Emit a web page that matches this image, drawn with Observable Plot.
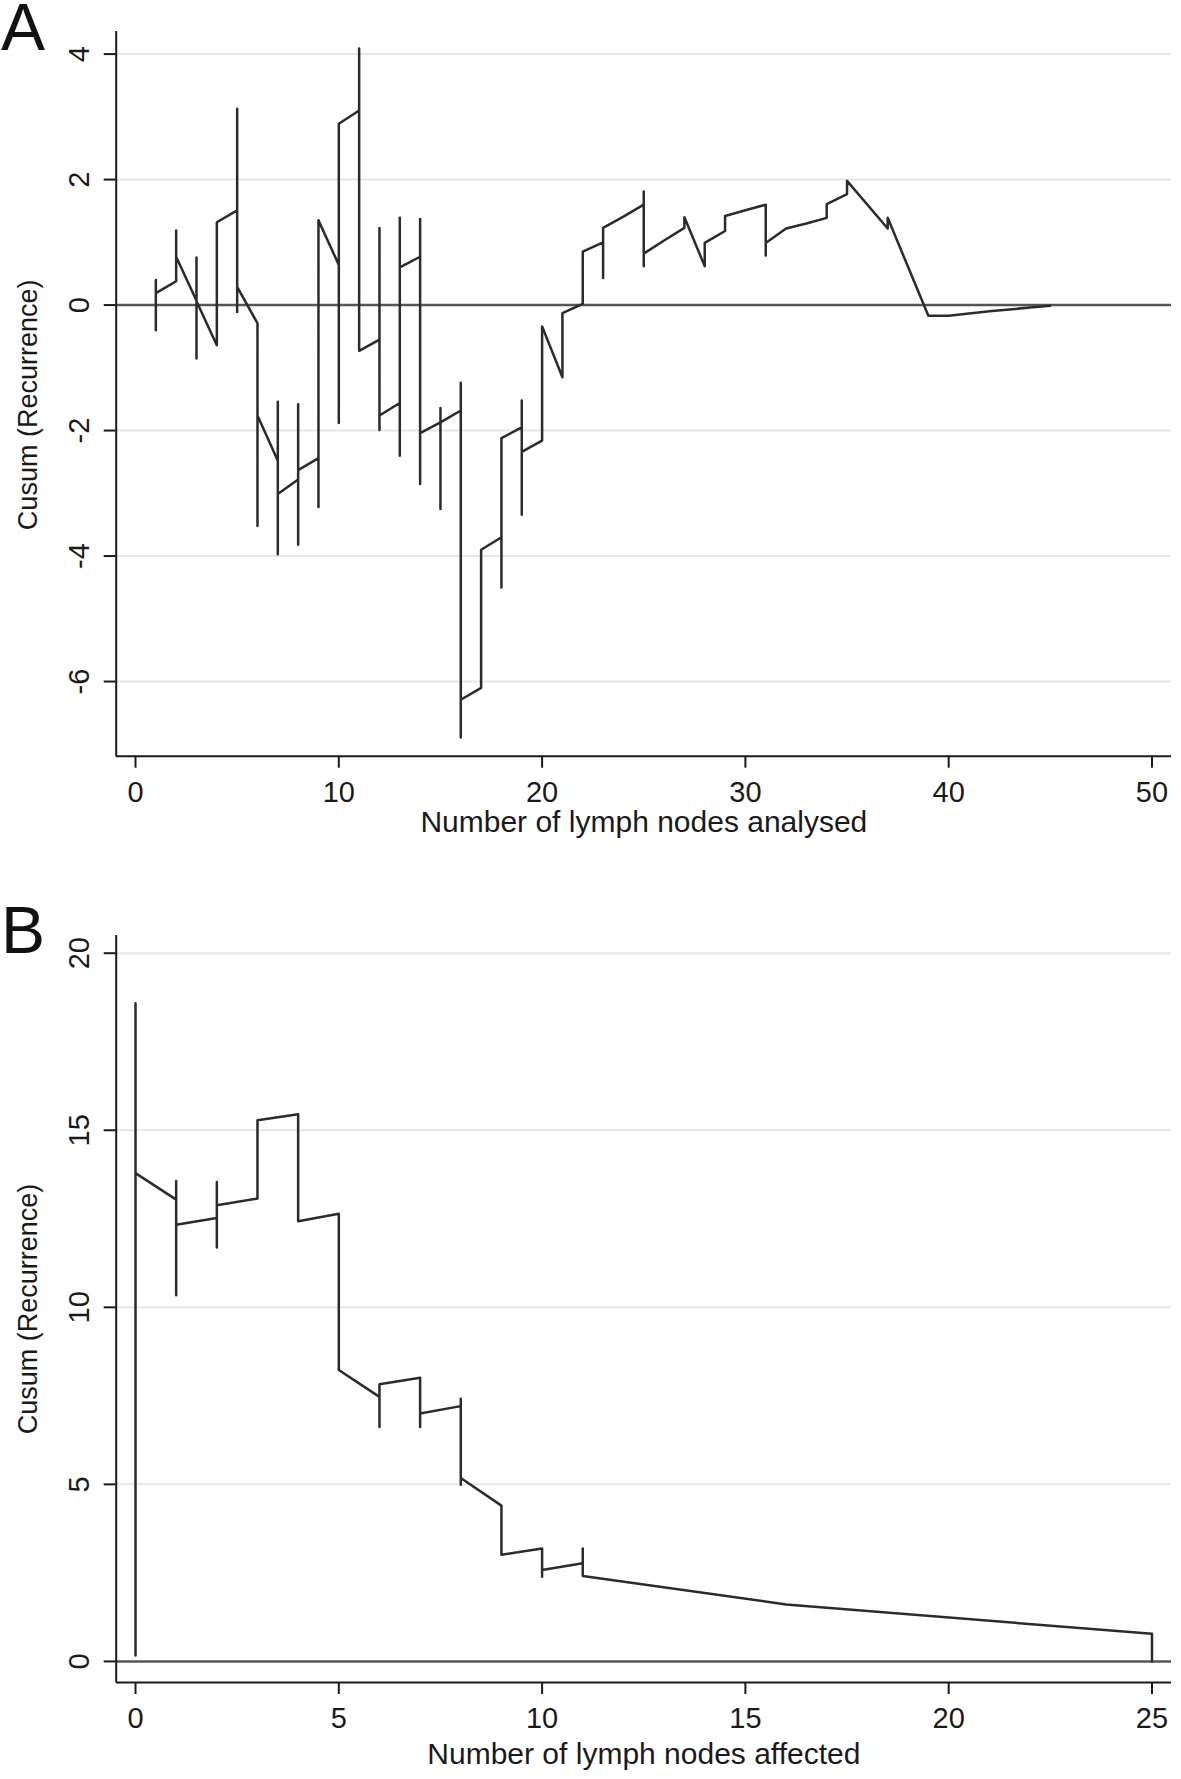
<!DOCTYPE html>
<html>
<head>
<meta charset="utf-8">
<script src="https://cdn.jsdelivr.net/npm/d3@7"></script>
<script src="https://cdn.jsdelivr.net/npm/@observablehq/plot@0.6"></script>
<style>
  body { margin: 0; background: #fff; }
  #wrap { position: relative; width: 1181px; height: 1779px; overflow: hidden; background: #fff;
          font-family: "Liberation Sans", Arial, sans-serif; }
  .panel { position: absolute; left: 0; }
  .tag { position: absolute; left: 1px; font-size: 66px; line-height: 50px; height: 50px; color: #111; }
</style>
</head>
<body>
<div id="wrap">
  <div class="panel" id="pa" style="top:0px"></div>
  <div class="panel" id="pb" style="top:870px"></div>
  <div class="tag" style="top:2px">A</div>
  <div class="tag" style="top:905px">B</div>
</div>
<script>
// ---- Panel A data: x = number of lymph nodes analysed, y = cusum values at that x (in drawing order)
const xA = [1,2,3,4,5,6,7,8,9,10,11,12,13,14,15,16,17,18,19,20,21,22,23,24,25,26,27,28,29,30,31,32,33,34,35,37,39,40,42,44,45];
const yA = [
  [-0.40,0.40,0.19],
  [0.38,1.19,0.77],
  [0.07,0.76,-0.85,0.06],
  [-0.64,1.32],
  [1.51,3.13,-0.11,0.29],
  [-0.29,-3.52,-1.76],
  [-2.48,-1.54,-3.97,-3.01],
  [-2.78,-1.58,-3.82,-2.63],
  [-2.44,-3.22,1.35],
  [0.64,-1.88,2.89],
  [3.10,4.09,-0.73],
  [-0.55,1.23,-1.99,-1.76],
  [-1.56,1.39,-2.40,0.60],
  [0.77,1.37,-2.85,-2.04],
  [-1.87,-1.64,-3.25,-1.87],
  [-1.68,-1.24,-6.89,-6.29],
  [-6.10,-3.90],
  [-3.70,-4.50,-2.12],
  [-1.95,-1.52,-3.34,-2.34],
  [-2.16,-0.34],
  [-1.15,-0.13],
  [0.02,0.85],
  [1.00,0.43,1.23],
  [1.41],
  [1.60,1.81,0.62,0.82],
  [1.03],
  [1.23,1.40],
  [0.62,0.99],
  [1.18,1.42],
  [1.51],
  [1.60,0.79,0.99],
  [1.22],
  [1.30],
  [1.39,1.61],
  [1.77,1.98],
  [1.22,1.39],
  [-0.17],
  [-0.17],
  [-0.10],
  [-0.04],
  [-0.01]
];
const xTicksA = [0,10,20,30,40,50];
const yTicksA = [-6,-4,-2,0,2,4];
const gridA = [-6,-4,-2,2,4];

// ---- Panel B data: x = number of lymph nodes affected
const xB = [0,1,2,3,4,5,6,7,8,9,10,11,16,25];
const yB = [
  [0.17,18.59,13.79],
  [13.04,13.57,10.34,12.33],
  [12.52,13.54,11.69,12.88],
  [13.07,15.28],
  [15.45,12.43],
  [12.64,8.23],
  [7.47,6.62,7.83],
  [8.01,6.62,7.00],
  [7.21,7.42,4.99,5.18],
  [4.40,3.01],
  [3.19,2.39,2.58],
  [2.77,3.19,2.41],
  [1.61],
  [0.78,0.0]
];
const xTicksB = [0,5,10,15,20,25];
const yTicksB = [0,5,10,15,20];
const gridB = [5,10,15,20];

const yTitle = "Cusum (Recurrence)";
const xTitleA = "Number of lymph nodes analysed";
const xTitleB = "Number of lymph nodes affected";

const INK = "#1a1a1a";

function panel(o) {
  const pts = o.xs.flatMap((x, i) => o.ys[i].map(y => ({x, y})));
  return Plot.plot({
    width: 1181,
    height: o.height,
    marginTop: o.mt,
    marginBottom: o.mb,
    marginLeft: 115.7,
    marginRight: 10,
    x: {domain: o.xDomain},
    y: {domain: o.yDomain},
    style: {fontFamily: '"Liberation Sans", Arial, sans-serif', fontSize: "29px", color: INK, background: "white", overflow: "visible"},
    marks: [
      Plot.ruleY(o.grid, {stroke: "#e6e6e6", strokeWidth: 2}),
      Plot.ruleY([0], {stroke: "#555", strokeWidth: 2.5}),
      Plot.ruleX([o.xDomain[0]], {stroke: INK, strokeWidth: 2}),
      Plot.ruleY([o.yDomain[0]], {stroke: INK, strokeWidth: 2}),
      Plot.axisX({ticks: o.xTicks, tickSize: 12, tickPadding: 13, tickFormat: d => String(d), label: null, fontSize: 29, strokeWidth: 2}),
      Plot.axisY({ticks: o.yTicks, tickSize: 12, tickFormat: () => "", label: null, strokeWidth: 2}),
      Plot.text(o.yTicks, {y: d => d, text: d => String(d), frameAnchor: "left", textAnchor: "middle", dx: -36.7, rotate: -90, fontSize: 29, fill: INK}),
      Plot.text([o.xTitle], {text: d => d, frameAnchor: "bottom", textAnchor: "middle", dy: o.titleDy, fontSize: 30, fill: INK}),
      Plot.text([yTitle], {text: d => d, frameAnchor: "left", textAnchor: "middle", dx: -88, dy: o.yTitleDy, rotate: -90, fontSize: 27, fill: INK}),
      Plot.line(pts, {x: "x", y: "y", stroke: "#2b2b2b", strokeWidth: 2.5})
    ]
  });
}

document.getElementById("pa").appendChild(panel({
  xs: xA, ys: yA, xDomain: [-0.95, 50.96], yDomain: [-7.19, 4.36],
  xTicks: xTicksA, yTicks: yTicksA, grid: gridA, xTitle: xTitleA,
  height: 870, mt: 31, mb: 114.3, titleDy: 76, yTitleDy: 11
}));
document.getElementById("pb").appendChild(panel({
  xs: xB, ys: yB, xDomain: [-0.475, 25.48], yDomain: [-0.595, 20.5],
  xTicks: xTicksB, yTicks: yTicksB, grid: gridB, xTitle: xTitleB,
  height: 909, mt: 65, mb: 97, titleDy: 81, yTitleDy: 0
}));
</script>
</body>
</html>
